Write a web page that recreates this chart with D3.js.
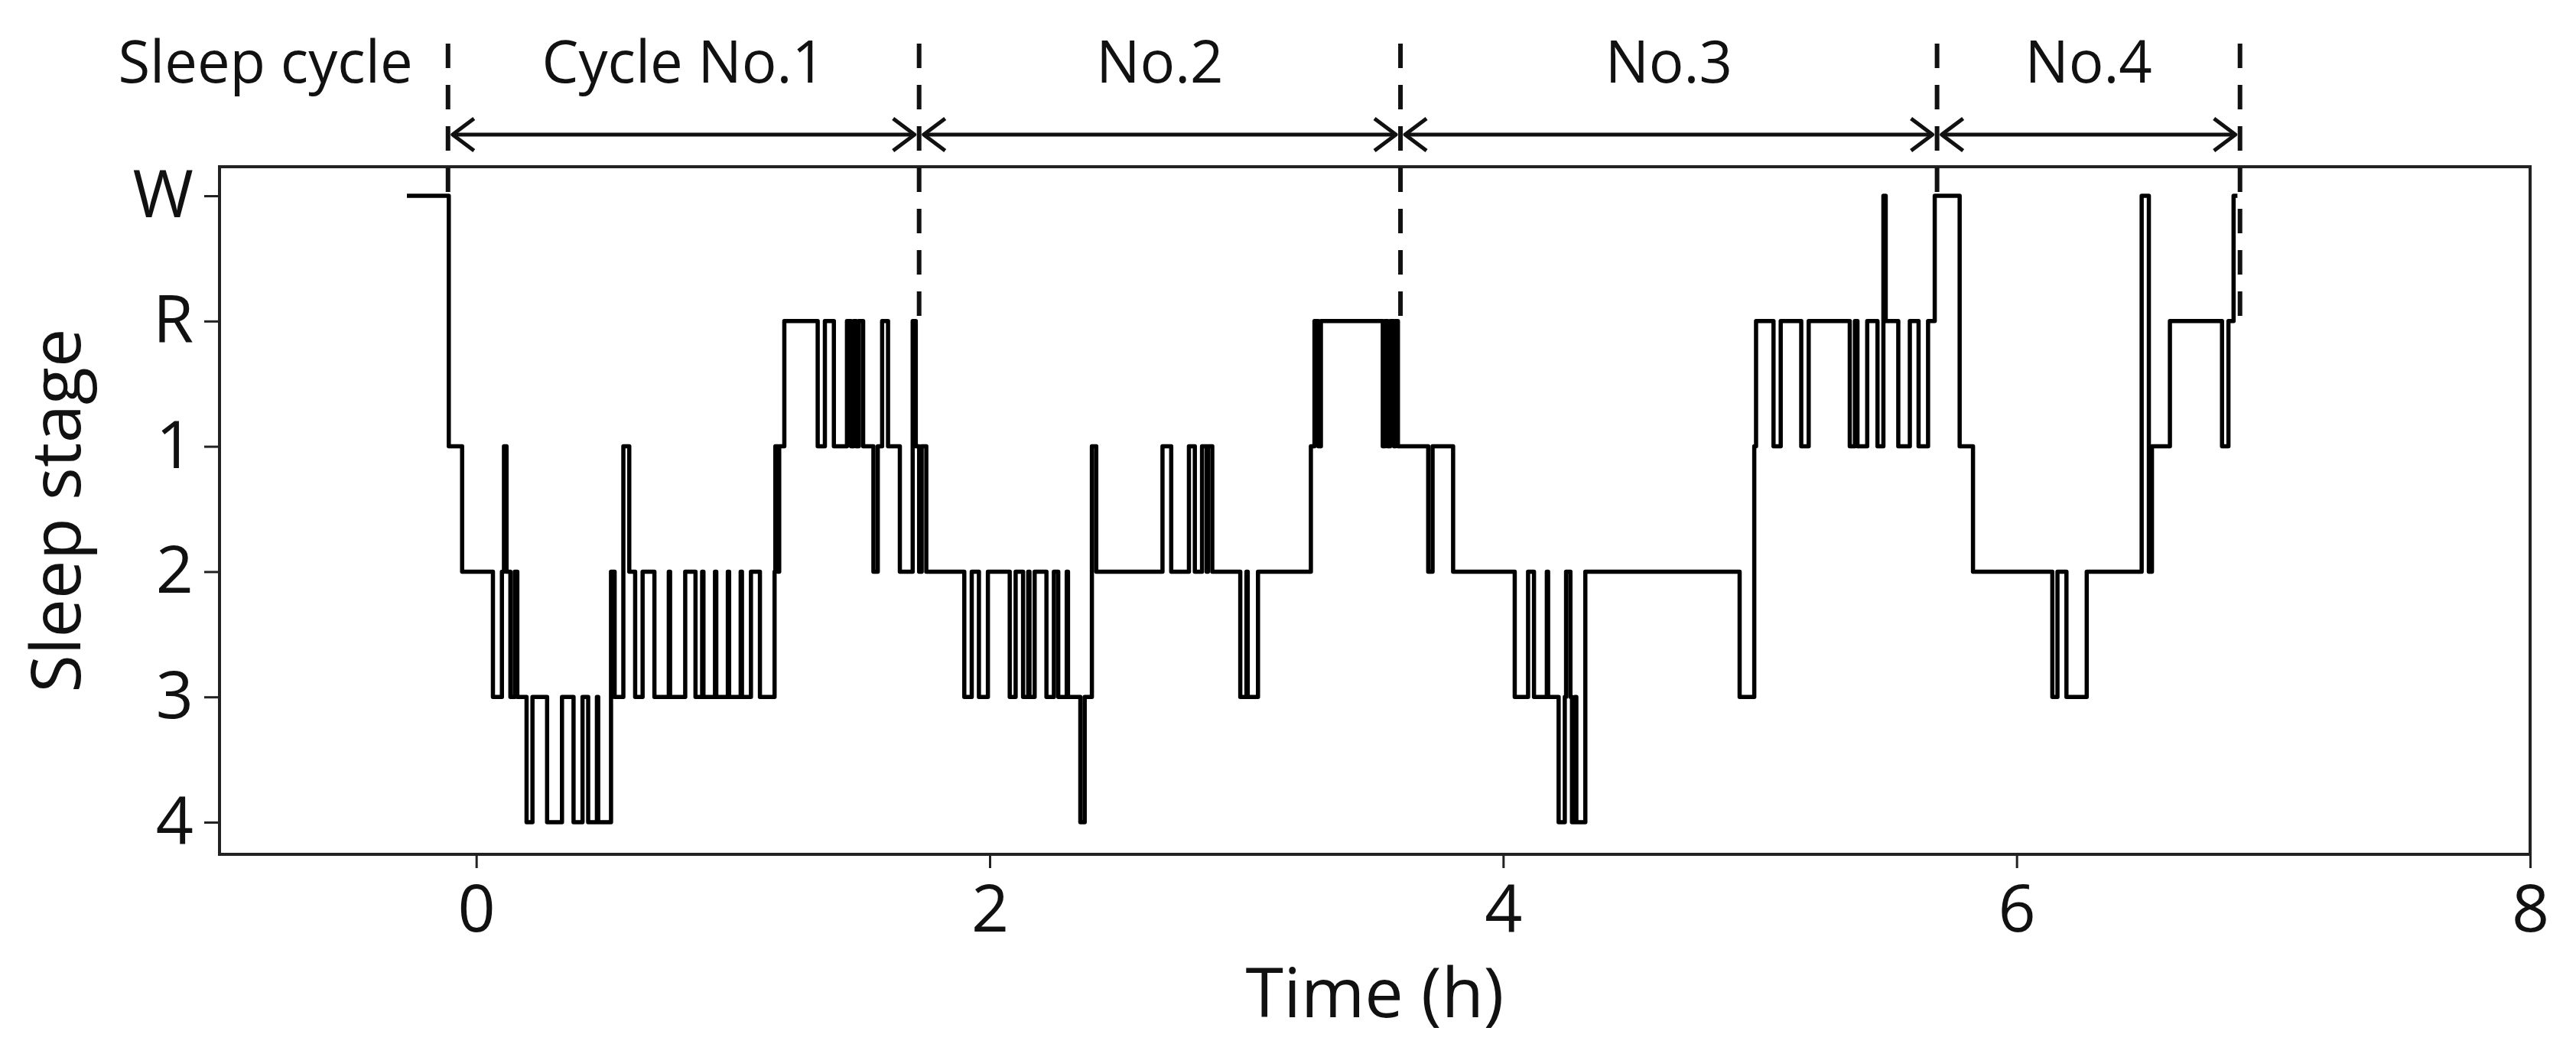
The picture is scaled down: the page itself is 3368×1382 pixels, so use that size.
<!DOCTYPE html>
<html>
<head>
<meta charset="utf-8">
<script src="https://cdn.jsdelivr.net/npm/d3@7"></script>
<style>
  body { margin: 0; background: #fff; }
  text { font-family: "Open Sans", sans-serif; fill: #111; }
</style>
</head>
<body>
<div id="chart"></div>
<script>
// stage categories, top to bottom
const stages = ["W", "R", "1", "2", "3", "4"];

// hypnogram transitions: time (h) where each stage starts
const stepTimes = [
  -0.27, -0.107, -0.055, 0.065, 0.100, 0.108, 0.118, 0.133, 0.150, 0.160,
  0.196, 0.219, 0.276, 0.334, 0.379, 0.414, 0.436, 0.470, 0.475, 0.525,
  0.539, 0.573, 0.596, 0.619, 0.648, 0.694, 0.750, 0.755, 0.814, 0.854,
  0.880, 0.885, 0.930, 0.935, 0.980, 0.985, 1.030, 1.035, 1.070, 1.105,
  1.162, 1.165, 1.175, 1.180, 1.200, 1.330, 1.358, 1.393, 1.444, 1.460,
  1.470, 1.480, 1.490, 1.507, 1.547, 1.564, 1.581, 1.604, 1.650, 1.700,
  1.712, 1.725, 1.735, 1.753, 1.901, 1.930, 1.958, 1.993, 2.078, 2.101,
  2.130, 2.150, 2.155, 2.175, 2.221, 2.250, 2.267, 2.300, 2.305, 2.353,
  2.370, 2.398, 2.415, 2.673, 2.707, 2.776, 2.799, 2.827, 2.845, 2.850,
  2.867, 2.976, 3.000, 3.005, 3.045, 3.251, 3.265, 3.280, 3.290, 3.531,
  3.540, 3.550, 3.560, 3.575, 3.580, 3.590, 3.708, 3.725, 3.805, 4.045,
  4.097, 4.120, 4.170, 4.175, 4.216, 4.240, 4.245, 4.262, 4.268, 4.280,
  4.285, 4.320, 4.921, 4.978, 4.985, 5.053, 5.081, 5.161, 5.190, 5.350,
  5.370, 5.380, 5.418, 5.458, 5.481, 5.490, 5.539, 5.584, 5.618, 5.655,
  5.681, 5.778, 5.830, 6.139, 6.159, 6.194, 6.273, 6.487, 6.515, 6.527,
  6.597, 6.800, 6.825, 6.845, 6.860
];
const stepStages = [
  "W", "1", "2", "3", "2", "1", "2", "3", "2", "3",
  "4", "3", "4", "3", "4", "3", "4", "3", "4", "2",
  "3", "1", "2", "3", "2", "3", "2", "3", "2", "3",
  "2", "3", "2", "3", "2", "3", "2", "3", "2", "3",
  "2", "1", "2", "1", "R", "1", "R", "1", "R", "1",
  "R", "1", "R", "1", "2", "1", "R", "1", "2", "R",
  "1", "2", "1", "2", "3", "2", "3", "2", "3", "2",
  "3", "2", "3", "2", "3", "2", "3", "2", "3", "4",
  "3", "1", "2", "1", "2", "1", "2", "1", "2", "1",
  "2", "3", "2", "3", "2", "1", "R", "1", "R", "1",
  "R", "1", "R", "1", "R", "1", "2", "1", "2", "3",
  "2", "3", "2", "3", "4", "3", "2", "3", "4", "3",
  "4", "2", "3", "1", "R", "1", "R", "1", "R", "1",
  "R", "1", "R", "1", "W", "R", "1", "R", "1", "R",
  "W", "1", "2", "3", "2", "3", "2", "W", "2", "1",
  "R", "1", "R", "W", "W"
];

// sleep cycle boundaries (h) and the stage where each dashed line ends
const cycleBounds = [-0.11, 1.725, 3.60, 5.69, 6.87];
const boundEnds = ["W", "R", "R", "W", "R"];
const cycleLabels = ["Cycle No.1", "No.2", "No.3", "No.4"];

const xTicks = [0, 2, 4, 6, 8];

const width = 3368, height = 1382;
const plotL = 287, plotR = 3308, plotT = 218, plotB = 1117;

const x = d3.scaleLinear().domain([-1, 8]).range([plotL, plotR]);
const y = d3.scalePoint().domain(stages).range([256, 1075]);

const svg = d3.select("#chart").append("svg")
    .attr("width", width)
    .attr("height", height)
    .attr("viewBox", [0, 0, width, height]);

svg.append("rect")
    .attr("x", plotL).attr("y", plotT)
    .attr("width", plotR - plotL).attr("height", plotB - plotT)
    .attr("fill", "none").attr("stroke", "#222").attr("stroke-width", 4);

// axes
const xAxis = svg.append("g")
    .attr("transform", `translate(0,${plotB})`)
    .call(d3.axisBottom(x).tickValues(xTicks).tickSize(18).tickPadding(22));
xAxis.select(".domain").remove();
xAxis.selectAll("line").attr("stroke", "#222").attr("stroke-width", 3);
xAxis.selectAll("text").style("font-size", "86px").attr("fill", "#111");

const yAxis = svg.append("g")
    .attr("transform", `translate(${plotL},0)`)
    .call(d3.axisLeft(y).tickSize(20).tickPadding(14));
yAxis.select(".domain").remove();
yAxis.selectAll("line").attr("stroke", "#222").attr("stroke-width", 3);
yAxis.selectAll("text").style("font-size", "86px").attr("fill", "#111");

svg.append("text")
    .attr("x", (plotL + plotR) / 2).attr("y", 1330)
    .attr("text-anchor", "middle")
    .style("font-size", "90px")
    .text("Time (h)");

svg.append("text")
    .attr("transform", `translate(105,${(plotT + plotB) / 2}) rotate(-90)`)
    .attr("text-anchor", "middle")
    .style("font-size", "90px")
    .text("Sleep stage");

// hypnogram
const steps = stepTimes.map((t, i) => ({t, s: stepStages[i]}));
const line = d3.line()
    .x(d => x(d.t))
    .y(d => y(d.s))
    .curve(d3.curveStepAfter);

svg.append("path")
    .datum(steps)
    .attr("fill", "none")
    .attr("stroke", "#000")
    .attr("stroke-width", 5.5)
    .attr("stroke-linejoin", "round")
    .attr("d", line);

// cycle boundaries
svg.append("g")
  .selectAll("line")
  .data(cycleBounds)
  .join("line")
    .attr("x1", d => x(d)).attr("x2", d => x(d))
    .attr("y1", 57)
    .attr("y2", (d, i) => y(boundEnds[i]))
    .attr("stroke", "#111")
    .attr("stroke-width", 6)
    .attr("stroke-dasharray", "32,22");

// arrows between boundaries
const arrowY = 176, head = 28;
const spans = d3.pairs(cycleBounds);
const arrows = svg.append("g")
    .attr("fill", "none").attr("stroke", "#111")
    .attr("stroke-width", 5).attr("stroke-linejoin", "round");
spans.forEach(([a, b]) => {
  const x0 = x(a) + 6, x1 = x(b) - 6;
  arrows.append("line").attr("x1", x0).attr("x2", x1)
      .attr("y1", arrowY).attr("y2", arrowY);
  arrows.append("path")
      .attr("d", `M${x0 + head},${arrowY - head * 0.75}L${x0},${arrowY}L${x0 + head},${arrowY + head * 0.75}`);
  arrows.append("path")
      .attr("d", `M${x1 - head},${arrowY - head * 0.75}L${x1},${arrowY}L${x1 - head},${arrowY + head * 0.75}`);
});

svg.append("g")
  .selectAll("text")
  .data(spans)
  .join("text")
    .attr("x", d => (x(d[0]) + x(d[1])) / 2)
    .attr("y", 108)
    .attr("text-anchor", "middle")
    .style("font-size", "76px")
    .text((d, i) => cycleLabels[i]);

svg.append("text")
    .attr("x", 347).attr("y", 108)
    .attr("text-anchor", "middle")
    .style("font-size", "76px")
    .text("Sleep cycle");
</script>
</body>
</html>
